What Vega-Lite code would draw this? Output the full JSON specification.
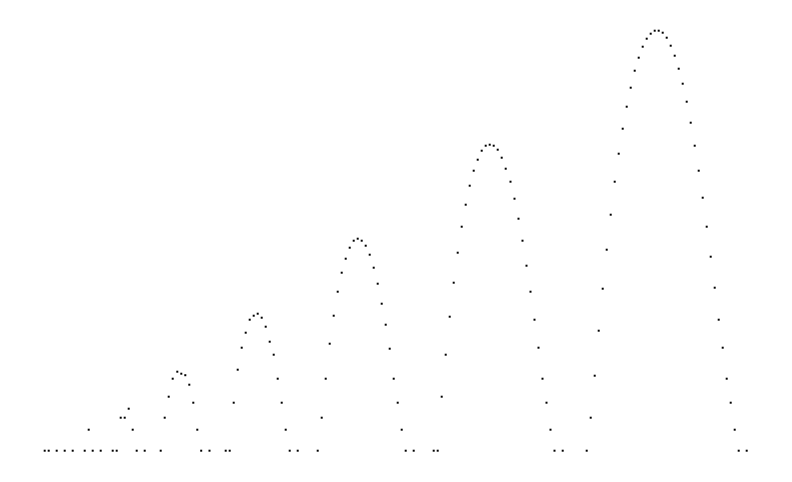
{
  "$schema": "https://vega.github.io/schema/vega-lite/v6.json",
  "description": "Dot plot of a growing series of humps, sampled about every 4 px.",
  "width": 792,
  "height": 482,
  "autosize": {"type": "fit", "contains": "padding"},
  "padding": 0,
  "background": "white",
  "data": {
    "values": [
      {"x": 44.7, "v": 0}, {"x": 48.7, "v": 0}, {"x": 56.7, "v": 0}, {"x": 64.7, "v": 0},
      {"x": 72.7, "v": 0}, {"x": 84.7, "v": 0}, {"x": 88.7, "v": 21}, {"x": 92.7, "v": 0},
      {"x": 100.7, "v": 0}, {"x": 112.7, "v": 0}, {"x": 116.7, "v": 0}, {"x": 120.7, "v": 33},
      {"x": 124.7, "v": 33}, {"x": 128.7, "v": 42}, {"x": 132.7, "v": 21}, {"x": 136.7, "v": 0},
      {"x": 144.7, "v": 0}, {"x": 160.7, "v": 0}, {"x": 164.7, "v": 33}, {"x": 168.7, "v": 54},
      {"x": 172.7, "v": 72}, {"x": 177.3, "v": 79}, {"x": 181.3, "v": 77}, {"x": 185.3, "v": 75.5},
      {"x": 189.3, "v": 66}, {"x": 193.3, "v": 48}, {"x": 197.3, "v": 21}, {"x": 201.2, "v": 0},
      {"x": 209.5, "v": 0}, {"x": 225.7, "v": 0}, {"x": 229.7, "v": 0}, {"x": 233.7, "v": 48},
      {"x": 237.7, "v": 81}, {"x": 241.7, "v": 103}, {"x": 245.7, "v": 118}, {"x": 249.7, "v": 131},
      {"x": 253.7, "v": 135}, {"x": 257.7, "v": 137}, {"x": 261.7, "v": 133}, {"x": 265.7, "v": 124},
      {"x": 269.7, "v": 109}, {"x": 273.7, "v": 96}, {"x": 277.7, "v": 72}, {"x": 281.7, "v": 48},
      {"x": 285.7, "v": 21}, {"x": 289.7, "v": 0}, {"x": 297.7, "v": 0}, {"x": 317.7, "v": 0},
      {"x": 321.7, "v": 33}, {"x": 325.7, "v": 72}, {"x": 329.7, "v": 107}, {"x": 333.7, "v": 135},
      {"x": 337.7, "v": 159}, {"x": 341.7, "v": 178}, {"x": 345.7, "v": 192}, {"x": 349.7, "v": 203},
      {"x": 353.7, "v": 210}, {"x": 357.7, "v": 212}, {"x": 361.7, "v": 210}, {"x": 365.7, "v": 205},
      {"x": 369.7, "v": 196}, {"x": 373.7, "v": 183}, {"x": 377.7, "v": 167}, {"x": 381.7, "v": 147},
      {"x": 385.7, "v": 126}, {"x": 389.7, "v": 102}, {"x": 393.7, "v": 72}, {"x": 397.7, "v": 48},
      {"x": 401.7, "v": 21}, {"x": 405.7, "v": 0}, {"x": 413.7, "v": 0}, {"x": 433.7, "v": 0},
      {"x": 437.7, "v": 0}, {"x": 441.7, "v": 54}, {"x": 445.7, "v": 96}, {"x": 449.7, "v": 134},
      {"x": 453.7, "v": 168}, {"x": 457.7, "v": 198}, {"x": 461.7, "v": 224}, {"x": 465.7, "v": 246},
      {"x": 469.7, "v": 265}, {"x": 473.7, "v": 280}, {"x": 477.7, "v": 291}, {"x": 481.7, "v": 300},
      {"x": 485.7, "v": 305}, {"x": 489.7, "v": 306}, {"x": 493.7, "v": 305}, {"x": 497.7, "v": 301},
      {"x": 501.7, "v": 293}, {"x": 505.7, "v": 282}, {"x": 510.5, "v": 269}, {"x": 514.5, "v": 252},
      {"x": 518.5, "v": 232}, {"x": 522.5, "v": 210}, {"x": 526.5, "v": 185}, {"x": 530.5, "v": 159},
      {"x": 534.5, "v": 131}, {"x": 538.5, "v": 103}, {"x": 542.5, "v": 72}, {"x": 546.5, "v": 48},
      {"x": 550.5, "v": 21}, {"x": 554.5, "v": 0}, {"x": 562.7, "v": 0}, {"x": 586.7, "v": 0},
      {"x": 590.7, "v": 33}, {"x": 594.7, "v": 75}, {"x": 598.7, "v": 120}, {"x": 602.7, "v": 162},
      {"x": 606.7, "v": 201}, {"x": 610.7, "v": 236}, {"x": 614.7, "v": 269}, {"x": 618.7, "v": 297},
      {"x": 622.7, "v": 322}, {"x": 626.7, "v": 344}, {"x": 630.7, "v": 363}, {"x": 634.7, "v": 380},
      {"x": 638.7, "v": 393}, {"x": 642.7, "v": 404}, {"x": 646.7, "v": 412}, {"x": 650.7, "v": 417},
      {"x": 654.7, "v": 420}, {"x": 658.7, "v": 420}, {"x": 662.7, "v": 418}, {"x": 666.7, "v": 413},
      {"x": 670.7, "v": 405}, {"x": 674.7, "v": 395}, {"x": 678.7, "v": 382}, {"x": 682.7, "v": 367},
      {"x": 686.7, "v": 349}, {"x": 690.7, "v": 328}, {"x": 694.7, "v": 305}, {"x": 698.7, "v": 280},
      {"x": 702.7, "v": 253}, {"x": 706.7, "v": 224}, {"x": 710.7, "v": 194}, {"x": 714.7, "v": 163},
      {"x": 718.7, "v": 131}, {"x": 722.7, "v": 103}, {"x": 726.7, "v": 72}, {"x": 730.7, "v": 48},
      {"x": 734.7, "v": 21}, {"x": 738.7, "v": 0}, {"x": 746.7, "v": 0}
    ]
  },
  "mark": {"type": "square", "size": 4, "color": "#000000", "opacity": 1},
  "encoding": {
    "x": {
      "field": "x",
      "type": "quantitative",
      "scale": {"domain": [0, 792], "nice": false, "zero": false},
      "axis": null
    },
    "y": {
      "field": "v",
      "type": "quantitative",
      "scale": {"domain": [-31.3, 450.7], "nice": false, "zero": false},
      "axis": null
    }
  },
  "config": {"view": {"stroke": null}}
}
